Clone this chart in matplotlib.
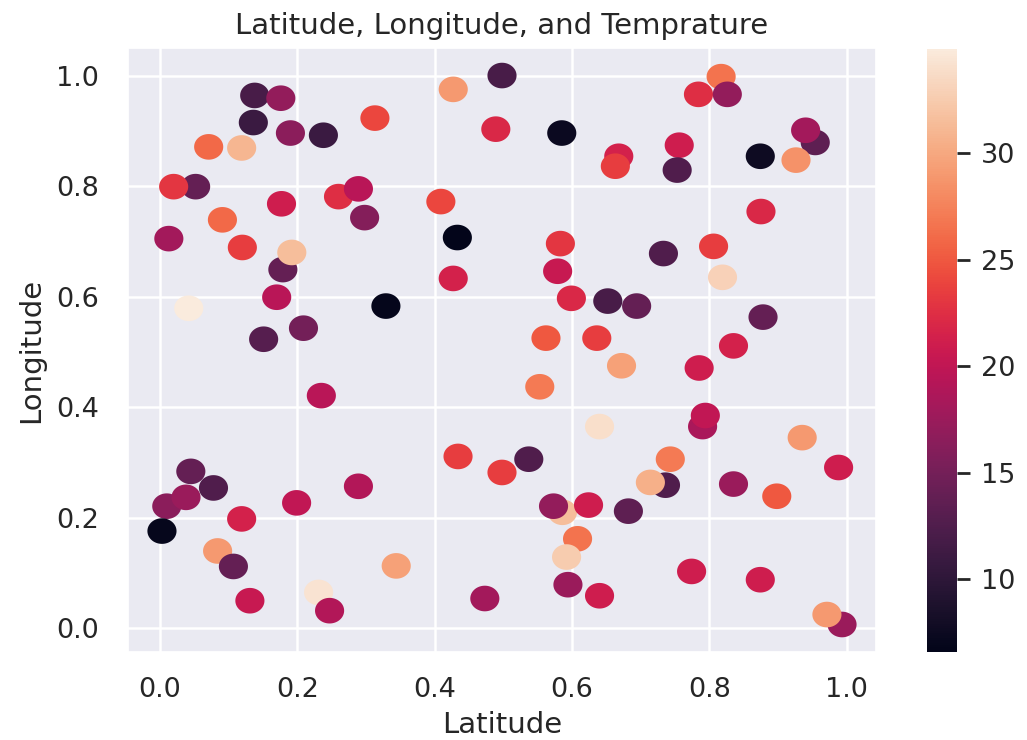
import numpy as np
import matplotlib
matplotlib.use("Agg")
import matplotlib.pyplot as plt
from matplotlib.path import Path
import seaborn as sns

sns.set_theme(style="darkgrid")
plt.rcParams["font.family"] = ["DejaVu Sans"]

# posiciones y temperatura de cada estación
latitud = np.array([
    0.138, 0.176, 0.136, 0.190, 0.238, 0.071, 0.119, 0.052, 0.020, 0.260,
    0.289, 0.177, 0.298, 0.091, 0.013, 0.120, 0.179, 0.192, 0.170, 0.042,
    0.209, 0.151, 0.313, 0.427, 0.498, 0.489, 0.585, 0.409, 0.433, 0.583,
    0.579, 0.427, 0.329, 0.599, 0.562, 0.636, 0.817, 0.784, 0.826, 0.954,
    0.940, 0.668, 0.663, 0.756, 0.753, 0.874, 0.926, 0.875, 0.806, 0.733,
    0.819, 0.652, 0.694, 0.878, 0.835, 0.235, 0.045, 0.010, 0.038, 0.003,
    0.078, 0.119, 0.199, 0.289, 0.084, 0.107, 0.131, 0.231, 0.247, 0.553,
    0.640, 0.434, 0.498, 0.537, 0.586, 0.573, 0.624, 0.608, 0.592, 0.594,
    0.640, 0.344, 0.473, 0.785, 0.672, 0.790, 0.794, 0.935, 0.988, 0.743,
    0.736, 0.714, 0.682, 0.835, 0.898, 0.774, 0.874, 0.993, 0.971,
])
longitud = np.array([
    0.964, 0.959, 0.915, 0.896, 0.892, 0.871, 0.869, 0.799, 0.799, 0.781,
    0.795, 0.768, 0.743, 0.739, 0.705, 0.689, 0.649, 0.680, 0.599, 0.579,
    0.543, 0.523, 0.923, 0.975, 1.000, 0.903, 0.896, 0.772, 0.707, 0.696,
    0.646, 0.633, 0.583, 0.597, 0.525, 0.525, 0.998, 0.966, 0.966, 0.879,
    0.901, 0.854, 0.836, 0.874, 0.829, 0.854, 0.847, 0.754, 0.691, 0.678,
    0.635, 0.592, 0.583, 0.563, 0.511, 0.421, 0.284, 0.221, 0.237, 0.176,
    0.254, 0.198, 0.227, 0.257, 0.140, 0.112, 0.050, 0.065, 0.032, 0.437,
    0.365, 0.311, 0.282, 0.306, 0.210, 0.221, 0.223, 0.162, 0.129, 0.079,
    0.059, 0.113, 0.054, 0.471, 0.475, 0.365, 0.385, 0.345, 0.291, 0.306,
    0.259, 0.264, 0.212, 0.261, 0.239, 0.103, 0.088, 0.007, 0.025,
])
temperatura = np.array([
    12.0, 17.0, 11.0, 16.5, 11.0, 26.0, 31.0, 14.0, 23.0, 22.5,
    19.5, 21.0, 16.0, 26.0, 18.0, 23.5, 14.0, 31.5, 19.5, 34.9,
    15.0, 13.0, 24.0, 29.0, 12.0, 22.0, 7.4, 24.0, 6.6, 23.0,
    20.5, 21.5, 6.9, 22.0, 25.0, 23.5, 26.5, 22.5, 17.0, 13.5,
    18.0, 21.5, 23.5, 21.0, 12.5, 7.6, 28.5, 22.0, 23.5, 12.5,
    33.0, 12.0, 14.0, 14.0, 21.5, 19.5, 14.0, 16.5, 17.5, 7.0,
    12.5, 21.5, 20.0, 19.0, 29.0, 14.0, 20.5, 34.3, 19.0, 27.0,
    34.0, 23.5, 23.5, 12.5, 31.5, 17.0, 21.0, 26.5, 32.5, 17.5,
    21.0, 29.5, 18.0, 21.0, 29.5, 18.5, 20.0, 29.0, 21.0, 27.0,
    12.5, 30.5, 13.5, 17.5, 25.0, 21.0, 21.0, 17.5, 29.0,
])

# marcador ligeramente ovalado
t = np.linspace(0, 2 * np.pi, 64)
ovalo = Path(np.column_stack([np.cos(t), 0.88 * np.sin(t)]), closed=True)

fig = plt.figure(figsize=(10.27, 7.4), dpi=100)
ax = fig.add_axes([0.1246, 0.119, 0.7284, 0.816])
cax = fig.add_axes([0.9026, 0.119, 0.0292, 0.815])

sc = ax.scatter(latitud, longitud, c=temperatura, cmap="rocket",
                s=440, marker=ovalo, linewidths=0)

ax.set_title("Latitude, Longitude, and Temprature", fontsize=21,
             color=".15", pad=10)
ax.set_xlabel("Latitude", fontsize=21, color=".15", labelpad=6)
ax.set_ylabel("Longitude", fontsize=21, color=".15", labelpad=8)
ax.set_xticks([0.0, 0.2, 0.4, 0.6, 0.8, 1.0])
ax.set_yticks([0.0, 0.2, 0.4, 0.6, 0.8, 1.0])
ax.tick_params(axis="x", labelsize=19.5, length=0, pad=18, labelcolor=".15")
ax.tick_params(axis="y", labelsize=19.5, length=0, pad=21, labelcolor=".15")
ax.grid(color="white", linewidth=1.8)

cb = fig.colorbar(sc, cax=cax)
cb.outline.set_visible(False)
cb.set_ticks([10, 15, 20, 25, 30])
cb.ax.tick_params(labelsize=19.5, length=9.5, width=2, color=".15",
                  pad=8, labelcolor=".15")

fig.savefig("out.png", dpi=100)
